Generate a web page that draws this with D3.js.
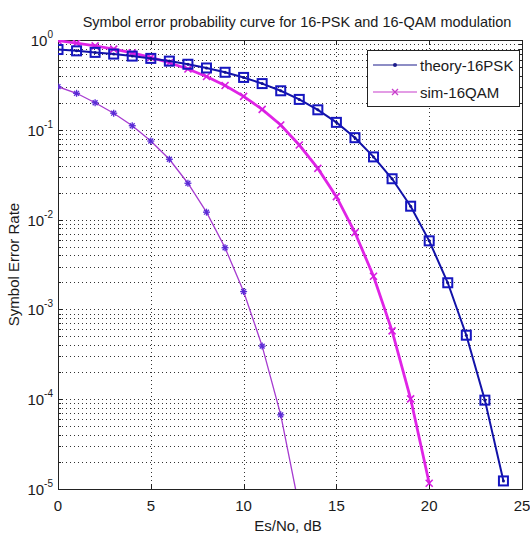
<!DOCTYPE html>
<html>
<head>
<meta charset="utf-8">
<script src="https://cdn.jsdelivr.net/npm/d3@7/dist/d3.min.js"></script>
<style>
body{margin:0;background:#fff}
text{font-family:"Liberation Sans",Arial,sans-serif;fill:#1a1a1a}
</style>
</head>
<body>
<div id="chart"></div>
<script>
// values
var snrPsk = [0,1,2,3,4,5,6,7,8,9,10,11,12,13,14,15,16,17,18,19,20,21,22,23,24]
var serPsk = [0.783,0.757,0.728,0.697,0.662,0.624,0.582,0.537,0.488,0.437,0.383,0.327,0.272,0.218,0.167,0.121,0.0817,0.0499,0.0285,0.0141,0.0058,0.00198,0.000516,0.0000976,0.0000123]
var snrQam = [0,1,2,3,4,5,6,7,8,9,10,11,12,13,14,15,16,17,18,19,20]
var serQam = [0.982,0.924,0.860,0.791,0.718,0.640,0.558,0.475,0.392,0.311,0.236,0.169,0.113,0.0677,0.0372,0.0180,0.00717,0.00234,0.000576,0.000101,0.0000116]
var snrLow = [0,1,2,3,4,5,6,7,8,9,10,11,12,13]
var serLow = [0.302,0.255,0.200,0.153,0.111,0.075,0.047,0.0254,0.0121,0.00486,0.00158,0.00039,0.000067,0.0000062]
var xTicks = [0,5,10,15,20,25]
var yExps = [0,-1,-2,-3,-4,-5]
var legendNames = ["theory-16PSK","sim-16QAM"]

var width = 530, height = 536
var margin = {top: 40, right: 8, bottom: 47, left: 58}

var svg = d3.select("#chart").append("svg")
    .attr("width", width)
    .attr("height", height)

var x = d3.scaleLinear().domain([0,25]).range([margin.left, width - margin.right])
var y = d3.scaleLog().domain([1e-5,1]).range([height - margin.bottom, margin.top])

var x0 = x.range()[0], x1 = x.range()[1], y0 = y.range()[0], y1 = y.range()[1]

// grid (dotted, like matlab)
var minor = []
yExps.forEach(function(e){
    if(e == 0) return
    for(var m=2;m<=9;m++) minor.push(m*Math.pow(10,e))
})
var grid = svg.append("g").attr("stroke","#333").attr("stroke-dasharray","1,3").attr("stroke-width",1)
grid.selectAll(".ym").data(minor.concat(yExps.map(function(e){return Math.pow(10,e)})))
    .enter().append("line")
    .attr("x1",x0).attr("x2",x1)
    .attr("y1",function(d){return Math.round(y(d))+0.5})
    .attr("y2",function(d){return Math.round(y(d))+0.5})
grid.selectAll(".xg").data(xTicks.slice(1,-1))
    .enter().append("line")
    .attr("y1",y0).attr("y2",y1)
    .attr("x1",function(d){return Math.round(x(d))+0.5})
    .attr("x2",function(d){return Math.round(x(d))+0.5})

// box + ticks
var ax = svg.append("g").attr("stroke","#222").attr("stroke-width",1).attr("fill","none")
ax.append("rect").attr("x",x0+0.5).attr("y",y1+0.5).attr("width",x1-x0).attr("height",y0-y1)
xTicks.forEach(function(t){
    var px = Math.round(x(t))+0.5
    ax.append("line").attr("x1",px).attr("x2",px).attr("y1",y0).attr("y2",y0-5)
    ax.append("line").attr("x1",px).attr("x2",px).attr("y1",y1).attr("y2",y1+5)
})
yExps.forEach(function(e){
    var py = Math.round(y(Math.pow(10,e)))+0.5
    ax.append("line").attr("x1",x0).attr("x2",x0+5).attr("y1",py).attr("y2",py)
    ax.append("line").attr("x1",x1).attr("x2",x1-5).attr("y1",py).attr("y2",py)
})
minor.forEach(function(v){
    var py = Math.round(y(v))+0.5
    ax.append("line").attr("x1",x0).attr("x2",x0+3).attr("y1",py).attr("y2",py)
    ax.append("line").attr("x1",x1).attr("x2",x1-3).attr("y1",py).attr("y2",py)
})

// tick labels
svg.selectAll(".xl").data(xTicks).enter().append("text")
    .attr("x",function(d){return x(d)})
    .attr("y",y0+22)
    .attr("text-anchor","middle")
    .style("font-size","15px")
    .text(function(d){return d})

var yl = svg.selectAll(".yl").data(yExps).enter().append("text")
    .attr("x",53)
    .attr("y",function(d){return y(Math.pow(10,d))+6})
    .attr("text-anchor","end")
    .style("font-size","15px")
yl.append("tspan").text("10")
yl.append("tspan").attr("dy",-8).style("font-size","10px").text(function(d){return d})

// titles
svg.append("text").attr("x",(x0+x1)/2+7).attr("y",27).attr("text-anchor","middle")
    .style("font-size","14.5px").text("Symbol error probability curve for 16-PSK and 16-QAM modulation")
svg.append("text").attr("x",(x0+x1)/2-2).attr("y",531).attr("text-anchor","middle")
    .style("font-size","15px").text("Es/No, dB")
svg.append("text").attr("transform","translate(19,"+(y0+y1)/2+") rotate(-90)")
    .attr("text-anchor","middle").style("font-size","15px").text("Symbol Error Rate")

// curves
svg.append("clipPath").attr("id","clip").append("rect")
    .attr("x",x0).attr("y",y1).attr("width",x1-x0).attr("height",y0-y1)
var plot = svg.append("g").attr("clip-path","url(#clip)")

function series(xs, ys){
    return xs.map(function(v,i){return [v, ys[i]]})
}
var line = d3.line().x(function(d){return x(d[0])}).y(function(d){return y(d[1])})

var pskData = series(snrPsk, serPsk)
var qamData = series(snrQam, serQam)
var lowData = series(snrLow, serLow)

// thin left curve with asterisks
plot.append("path").datum(lowData).attr("d",line)
    .attr("fill","none").attr("stroke","#a63bd0").attr("stroke-width",1.3)
function star(g, d, col){
    var cx = x(d[0]), cy = y(d[1]), r = 3.5
    var s = g.append("g").attr("stroke",col).attr("stroke-width",1.3)
    s.append("line").attr("x1",cx-r).attr("x2",cx+r).attr("y1",cy).attr("y2",cy)
    s.append("line").attr("x1",cx).attr("x2",cx).attr("y1",cy-r).attr("y2",cy+r)
    s.append("line").attr("x1",cx-r*0.7).attr("x2",cx+r*0.7).attr("y1",cy-r*0.7).attr("y2",cy+r*0.7)
    s.append("line").attr("x1",cx-r*0.7).attr("x2",cx+r*0.7).attr("y1",cy+r*0.7).attr("y2",cy-r*0.7)
}
lowData.slice(0,13).forEach(function(d){ star(plot, d, "#5a2ad6") })

// thick magenta with x
plot.append("path").datum(qamData).attr("d",line)
    .attr("fill","none").attr("stroke","#e024e6").attr("stroke-width",2.8)
function cross(g, d, col, r){
    var cx = x(d[0]), cy = y(d[1])
    var s = g.append("g").attr("stroke",col).attr("stroke-width",1.6)
    s.append("line").attr("x1",cx-r).attr("x2",cx+r).attr("y1",cy-r).attr("y2",cy+r)
    s.append("line").attr("x1",cx-r).attr("x2",cx+r).attr("y1",cy+r).attr("y2",cy-r)
}
qamData.forEach(function(d){ cross(plot, d, "#d61ee0", 3.5) })

// blue with squares
plot.append("path").datum(pskData).attr("d",line)
    .attr("fill","none").attr("stroke","#1212a8").attr("stroke-width",2)
plot.selectAll(".sq").data(pskData).enter().append("rect")
    .attr("x",function(d){return x(d[0])-4.5})
    .attr("y",function(d){return y(d[1])-4.5})
    .attr("width",9).attr("height",9)
    .attr("fill","none").attr("stroke","#1616c0").attr("stroke-width",2)
plot.selectAll(".dt").data(pskData).enter().append("circle")
    .attr("cx",function(d){return x(d[0])})
    .attr("cy",function(d){return y(d[1])})
    .attr("r",1.5).attr("fill","#101090")

// legend
var lg = svg.append("g")
lg.append("rect").attr("x",367.5).attr("y",50.5).attr("width",152).attr("height",56)
    .attr("fill","#fff").attr("stroke","#222")
var lcol = ["#1c1c8c","#c83ccc"]
legendNames.forEach(function(n,i){
    var ly = 65 + i*27
    lg.append("line").attr("x1",373).attr("x2",417).attr("y1",ly).attr("y2",ly)
        .attr("stroke",lcol[i]).attr("stroke-width",1.2)
    if(i == 0){
        lg.append("circle").attr("cx",395).attr("cy",ly).attr("r",2).attr("fill",lcol[i])
    } else {
        var g = lg.append("g").attr("stroke",lcol[i]).attr("stroke-width",1.2)
        g.append("line").attr("x1",392).attr("x2",398).attr("y1",ly-3).attr("y2",ly+3)
        g.append("line").attr("x1",392).attr("x2",398).attr("y1",ly+3).attr("y2",ly-3)
    }
    lg.append("text").attr("x",420).attr("y",ly+5.5).style("font-size","15px").text(n)
})
</script>
</body>
</html>
